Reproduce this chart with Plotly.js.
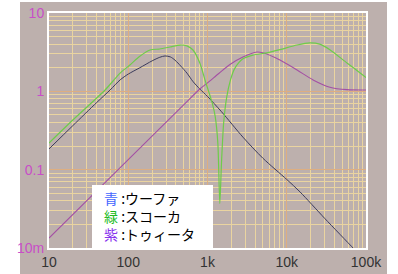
<!DOCTYPE html>
<html>
<head>
<meta charset="utf-8">
<script src="https://cdn.plot.ly/plotly-3.0.1.min.js"></script>
<style>
html,body{margin:0;padding:0;background:#ffffff;}
#chart{width:398px;height:274px;}
</style>
</head>
<body>
<div id="chart"></div>
<script>
// Woofer (blue)
const wooferFreq = [10, 20, 40, 59, 79, 100, 140, 200, 250, 291, 340, 389, 460, 550, 650, 800, 1000, 1500, 2800, 5000, 10000, 14700, 30000, 70800, 100000];
const wooferMag  = [0.184, 0.365, 0.72, 1.04, 1.40, 1.66, 2.0, 2.45, 2.72, 2.83, 2.75, 2.5, 2.1, 1.71, 1.35, 1.07, 0.86, 0.55, 0.26, 0.14, 0.075, 0.052, 0.024, 0.0097, 0.0068];
// Squawker (green)
const squawkerFreq = [10, 20, 51, 79, 105, 140, 188, 250, 336, 450, 550, 656, 800, 950, 1050, 1150, 1250, 1350, 1430, 1500, 1600, 1750, 1950, 2200, 2800, 3750, 5600, 8200, 13500, 19600, 26000, 35000, 57600, 91000, 100000];
const squawkerMag  = [0.219, 0.43, 1.04, 1.71, 2.17, 2.8, 3.37, 3.47, 3.68, 3.9, 3.8, 3.37, 2.3, 1.3, 0.95, 0.7, 0.48, 0.22, 0.037, 0.12, 0.4, 0.85, 1.4, 1.95, 2.6, 2.9, 3.1, 3.4, 3.9, 4.15, 4.0, 3.4, 2.3, 1.62, 1.5];
// Tweeter (purple)
const tweeterFreq = [10, 100, 500, 800, 1000, 1400, 1920, 2800, 4200, 5000, 8200, 13500, 21500, 35000, 57600, 100000];
const tweeterMag  = [0.0134, 0.134, 0.67, 1.07, 1.28, 1.7, 2.2, 2.74, 3.18, 3.1, 2.51, 1.87, 1.4, 1.13, 1.05, 1.04];

const xTickVals = [10, 100, 1000, 10000, 100000];
const xTickText = ['10', '100', '1k', '10k', '100k'];
const yTickVals = [0.01, 0.1, 1, 10];
const yTickText = ['10m', '0.1', '1', '10'];
const minorDigits = [2, 3, 4, 5, 6, 7, 8, 9];

const legendKanji = ['青', '緑', '紫'];
const legendKanjiColors = ['#4466ff', '#22bb22', '#8833ee'];
const legendNames = ['ウーファ', 'スコーカ', 'トゥィータ'];

function minorVals(decades) {
  const out = [];
  decades.forEach(d => minorDigits.forEach(m => out.push(d * m)));
  return out;
}
const xMinor = minorVals([10, 100, 1000, 10000]);
const yMinor = minorVals([0.01, 0.1, 1]);

const traces = [
  {x: wooferFreq, y: wooferMag, mode: 'lines', line: {color: '#3c3c5c', width: 1, shape: 'spline', smoothing: 0.8}},
  {x: tweeterFreq, y: tweeterMag, mode: 'lines', line: {color: '#a450a4', width: 1.1, shape: 'spline', smoothing: 0.8}},
  {x: squawkerFreq, y: squawkerMag, mode: 'lines', line: {color: '#6ecc4a', width: 1.2, shape: 'spline', smoothing: 0.7}}
];

// plot area in pixels: x 49..366, y 13..248
const L = 49, R = 366, T = 13, B = 248;
const px = v => (v - L) / (R - L);
const py = v => (B - v) / (B - T);

const legendText = legendNames.map((name, i) =>
  '<span style="color:' + legendKanjiColors[i] + '">' + legendKanji[i] + '</span> :' + name
).join('<br>');

const layout = {
  width: 398, height: 274,
  margin: {l: L, r: 398 - R, t: T, b: 274 - B, pad: 0},
  paper_bgcolor: '#ffffff',
  plot_bgcolor: '#ffffc0',
  showlegend: false,
  xaxis: {
    type: 'log', range: [1, 5], tickmode: 'array', tickvals: xTickVals, ticktext: xTickText,
    showgrid: true, gridcolor: '#deae80', gridwidth: 1,
    minor: {tickmode: 'array', tickvals: xMinor, showgrid: true, gridcolor: '#ead4a0', gridwidth: 1, ticks: ''},
    ticks: '', showline: true, linecolor: '#ffffff', linewidth: 2, mirror: true, zeroline: false,
    tickfont: {family: 'Arial, "Liberation Sans", sans-serif', size: 14, color: '#333333'}
  },
  yaxis: {
    type: 'log', range: [-2, 1], tickmode: 'array', tickvals: yTickVals, ticktext: yTickText,
    showgrid: true, gridcolor: '#deae80', gridwidth: 1,
    minor: {tickmode: 'array', tickvals: yMinor, showgrid: true, gridcolor: '#ead4a0', gridwidth: 1, ticks: ''},
    ticks: '', showline: true, linecolor: '#ffffff', linewidth: 2, mirror: true, zeroline: false,
    tickfont: {family: 'Arial, "Liberation Sans", sans-serif', size: 14, color: '#c84ec8'}
  },
  shapes: [
    {type: 'rect', xref: 'paper', yref: 'paper', layer: 'below',
     x0: px(20), x1: px(387), y0: py(274), y1: py(2),
     fillcolor: '#bdb0ad', line: {width: 0}},
    {type: 'rect', xref: 'paper', yref: 'paper', layer: 'above',
     x0: px(92), x1: px(213), y0: py(248), y1: py(185),
     fillcolor: '#ffffff', line: {width: 0}}
  ],
  annotations: [{
    xref: 'paper', yref: 'paper', x: px(102), y: py(216),
    xanchor: 'left', yanchor: 'middle', align: 'left', showarrow: false,
    text: legendText,
    font: {family: '"Noto Sans CJK JP", sans-serif', size: 14, color: '#000000'}
  }]
};

Plotly.newPlot('chart', traces, layout, {displayModeBar: false, staticPlot: true});
</script>
</body>
</html>
